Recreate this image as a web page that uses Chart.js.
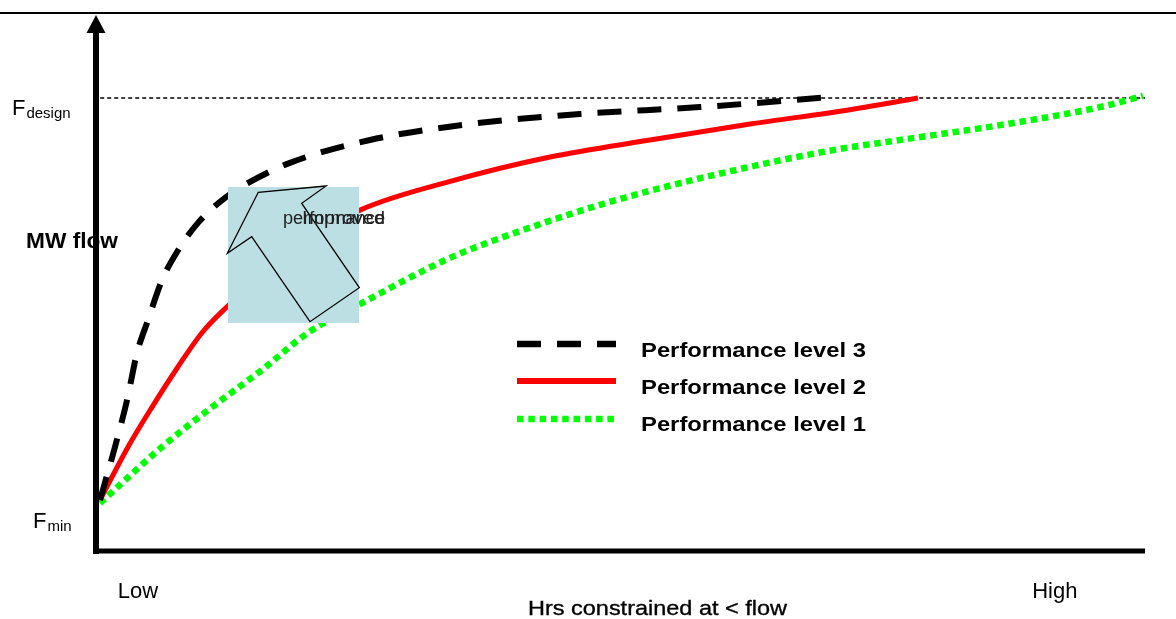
<!DOCTYPE html>
<html>
<head>
    <title>MW flow vs hours constrained</title>
    <script src="https://cdn.jsdelivr.net/npm/chart.js"></script>
    <style>
        body { margin: 0; background: #fff; }
        #wrap { width: 1176px; height: 619px; }
    </style>
</head>
<body>
<div id="wrap"><canvas id="flowChart" width="1176" height="619"></canvas></div>
<script>
    // curve values (x: 0 = low .. 100 = high, y: 0 = axis .. 100 = top)
    const xLevel3 = [0.38, 1.81, 2.96, 3.91, 4.96, 6.29, 7.72, 9.72, 12.30, 14.68, 18.49, 26.12, 35.65, 46.14, 57.58, 70.16];
    const yLevel3 = [9.6, 19.6, 28.4, 37.3, 43.5, 51.0, 56.3, 61.8, 66.5, 69.5, 73.1, 77.4, 80.4, 82.3, 83.6, 85.5];

    const xLevel2 = [0.38, 3.05, 5.34, 7.82, 10.10, 12.49, 18.49, 25.17, 33.75, 43.28, 52.81, 62.35, 71.88, 78.36];
    const yLevel2 = [9.6, 19.6, 27.1, 34.7, 41.1, 46.0, 56.7, 64.2, 69.6, 74.2, 77.4, 80.4, 83.1, 85.3];

    const xLevel1 = [0.38, 6.29, 11.06, 15.82, 20.21, 25.17, 33.75, 38.51, 48.05, 57.58, 70.26, 76.64, 86.18, 95.71, 99.81];
    const yLevel1 = [9.0, 19.6, 27.1, 34.1, 41.1, 46.5, 55.2, 58.9, 65.2, 70.2, 75.5, 77.4, 80.2, 83.6, 85.7];

    const fDesign = 85.3;
    const seriesNames = ['Performance level 3', 'Performance level 2', 'Performance level 1'];

    // tick labels
    const xTickValues = [4.0, 91.4];
    const xTickLabels = ['Low', 'High'];
    const yTickValues = [5.8, 83.6];
    const yTickMain = ['F', 'F'];
    const yTickSub = ['min', 'design'];

    // "improved performance" box + arrow, in data units
    const boxX = [12.58, 25.07];
    const boxY = [42.94, 68.55];
    const arrowX = [12.52, 15.47, 21.93, 19.61, 25.10, 20.40, 14.84];
    const arrowY = [56.06, 67.55, 68.74, 65.48, 49.59, 43.18, 59.19];

    const toPoints = (xs, ys) => xs.map((x, i) => ({ x: x, y: ys[i] }));

    // squeeze / stretch text to the width it has in the picture
    function fitText(ctx, txt, x, y, font, w, stroke) {
        ctx.save();
        ctx.font = font;
        const m = ctx.measureText(txt).width;
        ctx.translate(x, y);
        ctx.scale(w / m, 1);
        ctx.fillText(txt, 0, 0);
        if (stroke) {
            ctx.lineWidth = stroke;
            ctx.strokeText(txt, 0, 0);
        }
        ctx.restore();
    }

    const decorations = {
        id: 'decorations',
        afterDatasetsDraw(chart) {
            const ctx = chart.ctx;
            const xs = chart.scales.x, ys = chart.scales.y;

            // light blue box sits over the curves
            const bx0 = xs.getPixelForValue(boxX[0]), bx1 = xs.getPixelForValue(boxX[1]);
            const by0 = ys.getPixelForValue(boxY[1]), by1 = ys.getPixelForValue(boxY[0]);
            ctx.save();
            ctx.fillStyle = '#bbdfe3';
            ctx.fillRect(bx0, by0, bx1 - bx0, by1 - by0);

            ctx.beginPath();
            arrowX.forEach((v, i) => {
                const px = xs.getPixelForValue(v), py = ys.getPixelForValue(arrowY[i]);
                if (i === 0) ctx.moveTo(px, py); else ctx.lineTo(px, py);
            });
            ctx.closePath();
            ctx.strokeStyle = '#000';
            ctx.lineWidth = 1.3;
            ctx.stroke();

            ctx.fillStyle = '#222';
            fitText(ctx, 'performance', 283, 224, '18px "Liberation Sans", Arial, sans-serif', 102);
            fitText(ctx, 'Improved', 302, 224, '18px "Liberation Sans", Arial, sans-serif', 83);
            ctx.restore();

            // legend
            const legendY = [344, 381, 419];
            const textY = [357, 394, 431];
            chart.data.datasets.slice(0, 3).forEach((ds, i) => {
                ctx.save();
                ctx.strokeStyle = ds.borderColor;
                ctx.lineWidth = i === 1 ? 6 : 6.7;
                ctx.setLineDash(ds.borderDash || []);
                ctx.lineCap = 'butt';
                ctx.beginPath();
                ctx.moveTo(517, legendY[i]);
                ctx.lineTo(616, legendY[i]);
                ctx.stroke();
                ctx.restore();
                ctx.fillStyle = '#000';
                fitText(ctx, ds.label, 641, textY[i], 'bold 21px "Liberation Sans", Arial, sans-serif', 225);
            });
        },
        afterDraw(chart) {
            const ctx = chart.ctx;
            const xs = chart.scales.x, ys = chart.scales.y;
            const x0 = xs.getPixelForValue(0), y0 = ys.getPixelForValue(0);
            const xEnd = xs.getPixelForValue(100);

            ctx.save();
            ctx.fillStyle = '#000';
            ctx.strokeStyle = '#000';

            // titles
            fitText(ctx, 'MW flow', 26, 248, 'bold 22px "Liberation Sans", Arial, sans-serif', 92);
            fitText(ctx, 'Hrs constrained at < flow', 528, 615, '21px "Liberation Sans", Arial, sans-serif', 259, 0.35);

            // x tick labels
            ctx.font = '22px "Liberation Sans", Arial, sans-serif';
            ctx.textAlign = 'center';
            xTickValues.forEach((v, i) => {
                ctx.fillText(xTickLabels[i], xs.getPixelForValue(v), 598);
            });

            // y tick labels with subscripts
            ctx.textAlign = 'left';
            yTickValues.forEach((v, i) => {
                const py = ys.getPixelForValue(v);
                const left = i === 0 ? 33 : 12;
                ctx.font = '22px "Liberation Sans", Arial, sans-serif';
                ctx.fillText(yTickMain[i], left, py + 8);
                const fw = ctx.measureText(yTickMain[i]).width;
                ctx.font = '15px "Liberation Sans", Arial, sans-serif';
                ctx.fillText(yTickSub[i], left + fw + 1, py + 11);
            });

            // axes
            ctx.lineWidth = 6;
            ctx.beginPath();
            ctx.moveTo(x0, y0 + 3);
            ctx.lineTo(x0, 30);
            ctx.stroke();
            ctx.lineWidth = 5;
            ctx.beginPath();
            ctx.moveTo(x0 - 3, y0);
            ctx.lineTo(xEnd, y0);
            ctx.stroke();
            ctx.beginPath();
            ctx.moveTo(x0, 15);
            ctx.lineTo(x0 + 9.5, 33);
            ctx.lineTo(x0 - 9.5, 33);
            ctx.closePath();
            ctx.fill();

            // frame line at the top
            ctx.lineWidth = 2;
            ctx.beginPath();
            ctx.moveTo(0, 13);
            ctx.lineTo(chart.width, 13);
            ctx.stroke();
            ctx.restore();
        }
    };

    new Chart(document.getElementById('flowChart'), {
        type: 'line',
        data: {
            datasets: [{
                label: seriesNames[0],
                data: toPoints(xLevel3, yLevel3),
                borderColor: '#000000',
                borderWidth: 6,
                borderDash: [24, 16],
                order: 1
            }, {
                label: seriesNames[1],
                data: toPoints(xLevel2, yLevel2),
                borderColor: '#ff0000',
                borderWidth: 5,
                order: 2
            }, {
                label: seriesNames[2],
                data: toPoints(xLevel1, yLevel1),
                borderColor: '#00ff00',
                borderWidth: 6.5,
                borderDash: [6.5, 4.8],
                order: 3
            }, {
                label: 'Fdesign',
                data: [{ x: 0.4, y: fDesign }, { x: 100, y: fDesign }],
                borderColor: '#000000',
                borderWidth: 1.5,
                borderDash: [4, 3],
                order: 4
            }]
        },
        options: {
            responsive: false,
            animation: false,
            layout: { padding: { left: 96, right: 31, top: 20, bottom: 68 } },
            elements: {
                point: { radius: 0 },
                line: { cubicInterpolationMode: 'monotone', fill: false, borderCapStyle: 'butt' }
            },
            scales: {
                x: { type: 'linear', min: 0, max: 100, display: false },
                y: { min: 0, max: 100, display: false }
            },
            plugins: {
                legend: { display: false },
                tooltip: { enabled: false }
            },
            clip: false
        },
        plugins: [decorations]
    });
</script>
</body>
</html>
